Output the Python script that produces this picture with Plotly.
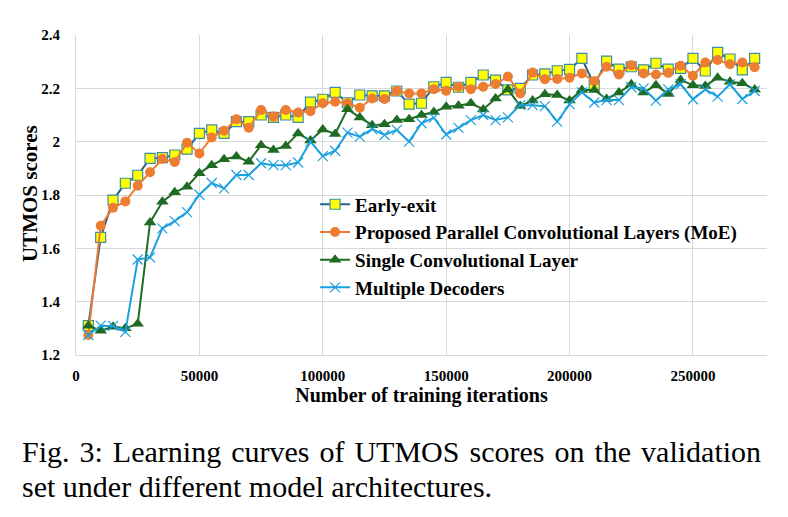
import plotly.graph_objects as go

iterations = list(range(5000, 280000, 5000))

early_exit = [1.31, 1.641, 1.781, 1.844, 1.874, 1.937, 1.94, 1.95, 1.972, 2.031,
              2.044, 2.031, 2.075, 2.075, 2.10, 2.091, 2.10, 2.091, 2.148, 2.159,
              2.185, 2.146, 2.175, 2.172, 2.172, 2.19, 2.141, 2.144, 2.206, 2.222,
              2.204, 2.222, 2.25, 2.231, 2.194, 2.20, 2.25, 2.254, 2.266, 2.271,
              2.312, 2.212, 2.302, 2.272, 2.281, 2.269, 2.294, 2.272, 2.275, 2.312,
              2.265, 2.335, 2.31, 2.269, 2.312]

moe = [1.275, 1.685, 1.752, 1.776, 1.835, 1.885, 1.935, 1.924, 1.996, 1.956,
       2.016, 2.041, 2.084, 2.052, 2.119, 2.094, 2.119, 2.109, 2.114, 2.144,
       2.15, 2.144, 2.127, 2.162, 2.16, 2.19, 2.181, 2.181, 2.197, 2.191,
       2.206, 2.197, 2.206, 2.216, 2.244, 2.181, 2.259, 2.234, 2.235, 2.24,
       2.256, 2.227, 2.281, 2.252, 2.287, 2.256, 2.252, 2.258, 2.285, 2.247,
       2.297, 2.306, 2.29, 2.297, 2.279]

single_conv = [1.31, 1.291, 1.306, 1.30, 1.317, 1.697, 1.775, 1.81, 1.831, 1.882,
               1.912, 1.934, 1.944, 1.925, 1.987, 1.969, 1.984, 2.031, 2.004, 2.046,
               2.029, 2.122, 2.091, 2.062, 2.065, 2.081, 2.084, 2.10, 2.111, 2.131,
               2.135, 2.144, 2.121, 2.162, 2.196, 2.134, 2.154, 2.178, 2.175, 2.154,
               2.194, 2.194, 2.16, 2.184, 2.215, 2.184, 2.212, 2.179, 2.231, 2.212,
               2.209, 2.24, 2.225, 2.219, 2.196]

multi_dec = [1.275, 1.31, 1.309, 1.287, 1.558, 1.566, 1.675, 1.702, 1.736, 1.801,
             1.845, 1.825, 1.875, 1.875, 1.919, 1.912, 1.912, 1.922, 2.0, 1.946,
             1.966, 2.034, 2.019, 2.047, 2.025, 2.044, 2.0, 2.069, 2.090, 2.027,
             2.052, 2.081, 2.10, 2.081, 2.091, 2.137, 2.137, 2.133, 2.075, 2.141,
             2.185, 2.147, 2.156, 2.156, 2.204, 2.20, 2.154, 2.196, 2.215, 2.159,
             2.196, 2.169, 2.215, 2.16, 2.19]

series_names = ["Early-exit",
                "Proposed Parallel Convolutional Layers (MoE)",
                "Single Convolutional Layer",
                "Multiple Decoders"]

x_ticks = [0, 50000, 100000, 150000, 200000, 250000]
y_ticks = [1.2, 1.4, 1.6, 1.8, 2.0, 2.2, 2.4]
y_tick_text = ["1.2", "1.4", "1.6", "1.8", "2", "2.2", "2.4"]

x_title = "Number of training iterations"
y_title = "UTMOS scores"
caption_lines = ["Fig. 3: Learning curves of UTMOS scores on the validation",
                 "set under different model architectures."]

serif = "Liberation Serif, Times New Roman, serif"

fig = go.Figure()
fig.add_trace(go.Scatter(
    x=iterations, y=early_exit, name=f"<b>{series_names[0]}</b>",
    mode="lines+markers",
    line=dict(color="#24638C", width=2),
    marker=dict(symbol="square", size=10, color="#FFFF00",
                line=dict(color="#3E8CA8", width=1.2))))
fig.add_trace(go.Scatter(
    x=iterations, y=moe, name=f"<b>{series_names[1]}</b>",
    mode="lines+markers",
    line=dict(color="#ED7D31", width=2),
    marker=dict(symbol="circle", size=10, color="#ED7D31")))
fig.add_trace(go.Scatter(
    x=iterations, y=single_conv, name=f"<b>{series_names[2]}</b>",
    mode="lines+markers",
    line=dict(color="#1E6B24", width=2),
    marker=dict(symbol="triangle-up", size=11, color="#1E6B24")))
fig.add_trace(go.Scatter(
    x=iterations, y=multi_dec, name=f"<b>{series_names[3]}</b>",
    mode="lines+markers",
    line=dict(color="#1BA1DF", width=2),
    marker=dict(symbol="x-thin", size=10, color="#1BA1DF",
                line=dict(color="#1BA1DF", width=1.2))))

fig.update_layout(
    width=788, height=517,
    margin=dict(l=76, r=21, t=35, b=162),
    paper_bgcolor="white", plot_bgcolor="white",
    font=dict(family=serif, color="black"),
    showlegend=True,
    legend=dict(x=0.346, y=0.53, xanchor="left", yanchor="top",
                bgcolor="rgba(0,0,0,0)", itemwidth=30,
                font=dict(family=serif, size=19, color="black"),
                tracegroupgap=0),
    xaxis=dict(range=[0, 280000], tickvals=x_ticks,
               ticktext=[f"<b>{v}</b>" for v in x_ticks],
               showgrid=True, gridcolor="#D9D9D9", gridwidth=1,
               showline=True, linecolor="#D9D9D9", linewidth=1,
               zeroline=False, ticks="", ticklabelstandoff=7,
               tickfont=dict(family=serif, size=15, color="black"),
               title=dict(text=f"<b>{x_title}</b>",
                          font=dict(family=serif, size=20, color="black"),
                          standoff=4)),
    yaxis=dict(range=[1.2, 2.4], tickvals=y_ticks,
               ticktext=[f"<b>{t}</b>" for t in y_tick_text],
               showgrid=True, gridcolor="#D9D9D9", gridwidth=1,
               showline=True, linecolor="#D9D9D9", linewidth=1,
               zeroline=False, ticks="", ticklabelstandoff=12,
               tickfont=dict(family=serif, size=15, color="black")),
)

fig.add_annotation(text=f"<b>{y_title}</b>", xref="paper", yref="paper",
                   x=(30 - 76) / 691, y=(355 - 194) / 320,
                   xanchor="center", yanchor="middle", textangle=-90,
                   showarrow=False,
                   font=dict(family=serif, size=21, color="black"))

cap_size = 30
fig.add_annotation(text=caption_lines[0].replace(" ", " \u200a"),
                   xref="paper", yref="paper",
                   x=(20 - 76) / 691, y=-(451 - 355) / 320,
                   xanchor="left", yanchor="middle", showarrow=False,
                   font=dict(family=serif, size=cap_size, color="black"))
fig.add_annotation(text=caption_lines[1], xref="paper", yref="paper",
                   x=(20 - 76) / 691, y=-(486 - 355) / 320,
                   xanchor="left", yanchor="middle", showarrow=False,
                   font=dict(family=serif, size=cap_size, color="black"))

fig.write_html("out.html")
